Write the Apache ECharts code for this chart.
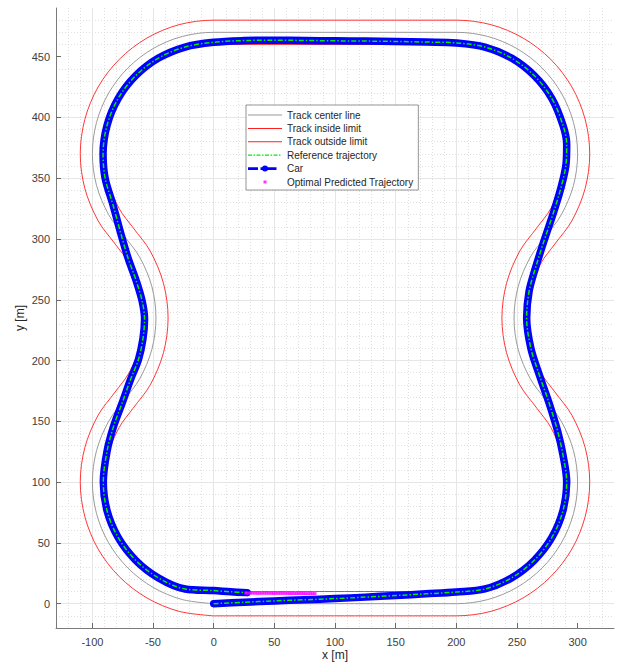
<!DOCTYPE html>
<html>
<head>
<meta charset="utf-8">
<script src="https://cdn.jsdelivr.net/npm/echarts@6/dist/echarts.min.js"></script>
<style>
html,body{margin:0;padding:0;background:#fff;}
#chart{width:621px;height:663px;}
</style>
</head>
<body>
<div id="chart"></div>
<script>
// ---- tick labels ----
const xTickLabels = [-100, -50, 0, 50, 100, 150, 200, 250, 300];
const yTickLabels = [0, 50, 100, 150, 200, 250, 300, 350, 400, 450];

// ---- legend names ----
const seriesNames = ['Track center line', 'Track inside limit', 'Track outside limit',
  'Reference trajectory', 'Car', 'Optimal Predicted Trajectory'];

// ---- track center line [x, y] (m) ----
const centerLine = [
  [0,0],[200,0],
  [225.9,3.4],[250,13.4],[270.7,29.3],[286.6,50],[296.6,74.1],[300,100],[296.6,125.9],[286.6,150],[273.8,167.5],
  [261,185],[251,209.1],[247.6,235],[251,260.9],[261,285],[273.8,302.5],
  [286.6,320],[296.6,344.1],[300,370],[296.6,395.9],[286.6,420],[270.7,440.7],[250,456.6],[225.9,466.6],[200,470],
  [0,470],
  [-25.9,466.6],[-50,456.6],[-70.7,440.7],[-86.6,420],[-96.6,395.9],[-100,370],[-96.6,344.1],[-86.6,320],[-73.8,302.5],
  [-61,285],[-51,260.9],[-47.6,235],[-51,209.1],[-61,185],[-73.8,167.5],
  [-86.6,150],[-96.6,125.9],[-100,100],[-96.6,74.1],[-86.6,50],[-70.7,29.3],[-50,13.4],[-25.9,3.4],[0,0]
];

// ---- track inside limit [x, y] (m) ----
const insideLimit = [
  [0,10],[200,10],
  [223.3,13.1],[245,22.1],[263.6,36.4],[277.9,55],[286.9,76.7],[290,100],[286.9,123.3],[277.9,145],[266.4,160.8],
  [252.3,180],[241.4,206.5],[237.6,235],[241.4,263.5],[252.3,290],[266.4,309.2],
  [277.9,325],[286.9,346.7],[290,370],[286.9,393.3],[277.9,415],[263.6,433.6],[245,447.9],[223.3,456.9],[200,460],
  [0,460],
  [-23.3,456.9],[-45,447.9],[-63.6,433.6],[-77.9,415],[-86.9,393.3],[-90,370],[-86.9,346.7],[-77.9,325],[-66.4,309.2],
  [-52.3,290],[-41.4,263.5],[-37.6,235],[-41.4,206.5],[-52.3,180],[-66.4,160.8],
  [-77.9,145],[-86.9,123.3],[-90,100],[-86.9,76.7],[-77.9,55],[-63.6,36.4],[-45,22.1],[-23.3,13.1],[0,10]
];

// ---- track outside limit [x, y] (m) ----
const outsideLimit = [
  [0,-10],[200,-10],
  [228.5,-6.3],[255,4.7],[277.8,22.2],[295.3,45],[306.2,71.5],[310,100],[306.2,128.5],[295.3,155],[281.2,174.2],
  [269.7,190],[260.7,211.7],[257.6,235],[260.7,258.3],[269.7,280],[281.2,295.8],
  [295.3,315],[306.2,341.5],[310,370],[306.2,398.5],[295.3,425],[277.8,447.8],[255,465.3],[228.5,476.3],[200,480],
  [0,480],
  [-28.5,476.3],[-55,465.3],[-77.8,447.8],[-95.3,425],[-106.2,398.5],[-110,370],[-106.2,341.5],[-95.3,315],[-81.2,295.8],
  [-69.7,280],[-60.7,258.3],[-57.6,235],[-60.7,211.7],[-69.7,190],[-81.2,174.2],
  [-95.3,155],[-106.2,128.5],[-110,100],[-106.2,71.5],[-95.3,45],[-77.8,22.2],[-55,4.7],[-28.5,-6.3],[0,-10]
];

// ---- car path (also the reference trajectory) [x, y] (m) ----
const carPath = [
  [0,0],[25,1.2],[50,2.3],[75,3.2],[100,4.2],[125,5.4],[150,6.7],[175,8.1],[200,9.6],
  [223.6,12.1],[245.5,21.2],[264.3,35.7],[278.8,54.5],[287.9,76.4],[291,100],[288,122],[283.5,142],
  [276.5,165],[268.5,188],[261.5,210],[258,235],[260,257],[265.5,277],[272.5,299],[280.5,323],[286.5,343],[290.5,362],
  [291,378],[287.9,393.6],[278.8,415.5],[264.3,434.3],[245.5,448.8],[223.6,457.9],[200,461.3],
  [175,462],[150,462.5],[125,462.8],[100,463],[75,463.3],[50,463.5],[25,463.2],[0,461.8],
  [-23.6,457.9],[-45.5,448.8],[-64.3,434.3],[-78.8,415.5],[-87.9,393.6],[-91.2,370],[-89.5,350],
  [-83,328],[-77,306],[-70.5,284],[-64,266],[-59,249],[-57,234],[-58.3,218],[-62,201],[-68.5,184.5],
  [-75.5,165],[-82.5,146],[-88,125],[-91,100],
  [-87.9,76.4],[-78.8,54.5],[-64.3,35.7],[-45.5,21.2],[-23.6,12.1],[0,10.8],[14,9.8],[27.5,9.1]
];
const referencePath = carPath;

// ---- optimal predicted trajectory ----
const predX = [26.5,28.4,30.3,32.2,34.1,36.0,37.9,39.8,41.7,43.6,45.5,47.4,49.3,51.2,53.1,55.0,
  56.9,58.8,60.7,62.6,64.5,66.4,68.3,70.2,72.1,74.0,75.9,77.8,79.7,81.6,83.5];
const predY = [8.7,8.7,8.7,8.7,8.6,8.6,8.6,8.6,8.6,8.6,8.6,8.5,8.5,8.5,8.5,8.5,
  8.5,8.5,8.5,8.4,8.4,8.4,8.4,8.4,8.4,8.4,8.3,8.3,8.3,8.3,8.3];

// ---- styling ----
const FONT = "'Liberation Sans', Arial, Helvetica, sans-serif";
const C_CENTER = '#9a9a9a', C_RED = '#ff2020', C_GREEN = '#00ee00', C_CAR = '#0000ff', C_PRED = '#ff00ff';
const BOX = 'M0,0L0,0.01M34,10L34,9.99';
const iconLine = 'path://' + BOX + 'M0,4.5h34v1h-34z';
const iconDashDot = 'path://' + BOX + 'M0,4.4h4v1.2h-4zM5.5,4.4h1.5v1.2h-1.5zM8.5,4.4h4v1.2h-4zM14,4.4h1.5v1.2h-1.5zM17,4.4h4v1.2h-4zM22.5,4.4h1.5v1.2h-1.5zM25.5,4.4h4v1.2h-4zM31,4.4h1.5v1.2h-1.5z';
const iconCar = 'path://' + BOX + 'M0,3.6h10v2.8h-10zM12.5,3.6h16v2.8h-16zM14,5a3,3 0 1,1 6,0a3,3 0 1,1 -6,0z';
const iconPred = 'path://' + BOX + 'M15.5,3.5h3v3h-3z';

const predData = predX.map((x, i) => [x, predY[i]]);

const chart = echarts.init(document.getElementById('chart'), null, {renderer: 'svg'});

function axisCommon(ticks) {
  return {
    type: 'value',
    splitNumber: 9,
    minInterval: 50,
    maxInterval: 50,
    axisLine: {show: true, onZero: false, lineStyle: {color: '#7a7a7a', width: 1}},
    axisTick: {show: true, inside: true, length: 5, customValues: ticks, lineStyle: {color: '#6a6a6a'}},
    minorTick: {show: false, splitNumber: 5},
    axisLabel: {customValues: ticks, color: '#404040', fontSize: 11, fontFamily: FONT},
    splitLine: {show: true, showMaxLine: false, lineStyle: {color: '#e6e6e6', width: 1}},
    minorSplitLine: {show: true, lineStyle: {color: '#e0e0e0', width: 1, type: [1, 2]}},
    nameLocation: 'middle',
    nameMoveOverlap: false,
    nameTextStyle: {color: '#262626', fontSize: 12, fontFamily: FONT, lineHeight: 12}
  };
}

const xAxis = Object.assign(axisCommon(xTickLabels), {
  min: -130, max: 330, name: 'x [m]', nameGap: 21
});
xAxis.axisLabel.margin = 8;
const yAxis = Object.assign(axisCommon(yTickLabels), {
  min: -20, max: 490, name: 'y [m]', nameGap: 30, nameRotate: 90
});
yAxis.axisLabel.margin = 6;

const option = {
  animation: false,
  backgroundColor: '#ffffff',
  textStyle: {fontFamily: FONT},
  grid: {left: 56, right: 7, top: 8, bottom: 35, containLabel: false, outerBoundsMode: 'none'},
  xAxis: xAxis,
  yAxis: yAxis,
  legend: {
    orient: 'vertical', left: 246, top: 105,
    itemWidth: 34, itemHeight: 10, itemGap: 3.4,
    padding: [5, 5, 3, 2],
    borderColor: '#7a7a7a', borderWidth: 0.8, backgroundColor: '#ffffff',
    selectedMode: false,
    textStyle: {fontSize: 10, color: '#262626', fontFamily: FONT, lineHeight: 10},
    data: [
      {name: seriesNames[0], icon: iconLine, itemStyle: {color: C_CENTER}},
      {name: seriesNames[1], icon: iconLine, itemStyle: {color: C_RED}},
      {name: seriesNames[2], icon: iconLine, itemStyle: {color: C_RED}},
      {name: seriesNames[3], icon: iconDashDot, itemStyle: {color: C_GREEN}},
      {name: seriesNames[4], icon: iconCar, itemStyle: {color: C_CAR}},
      {name: seriesNames[5], icon: iconPred, itemStyle: {color: C_PRED}}
    ]
  },
  series: [
    {name: seriesNames[0], type: 'line', data: centerLine, smooth: 0.33, symbol: 'none', color: C_CENTER,
      itemStyle: {color: C_CENTER}, lineStyle: {color: C_CENTER, width: 1}, z: 2, silent: true},
    {name: seriesNames[1], type: 'line', data: insideLimit, smooth: 0.33, symbol: 'none', color: C_RED,
      itemStyle: {color: C_RED}, lineStyle: {color: C_RED, width: 0.9}, z: 2, silent: true},
    {name: seriesNames[2], type: 'line', data: outsideLimit, smooth: 0.33, symbol: 'none', color: C_RED,
      itemStyle: {color: C_RED}, lineStyle: {color: C_RED, width: 0.9}, z: 2, silent: true},
    {name: seriesNames[3], type: 'line', data: referencePath, smooth: 0.33, symbol: 'none', color: C_GREEN,
      itemStyle: {color: C_GREEN}, lineStyle: {color: C_GREEN, width: 1.5, type: [5, 2, 1.5, 2]}, z: 5, silent: true},
    {name: seriesNames[4], type: 'line', data: carPath, smooth: 0.33, symbol: 'none', color: C_CAR,
      itemStyle: {color: C_CAR}, lineStyle: {color: C_CAR, width: 7.5, cap: 'round', join: 'round'}, z: 4, silent: true},
    {name: seriesNames[5], type: 'scatter', data: predData, symbol: 'rect', symbolSize: 3, color: C_PRED,
      itemStyle: {color: C_PRED}, z: 6, silent: true}
  ]
};
chart.setOption(option);
</script>
</body>
</html>
